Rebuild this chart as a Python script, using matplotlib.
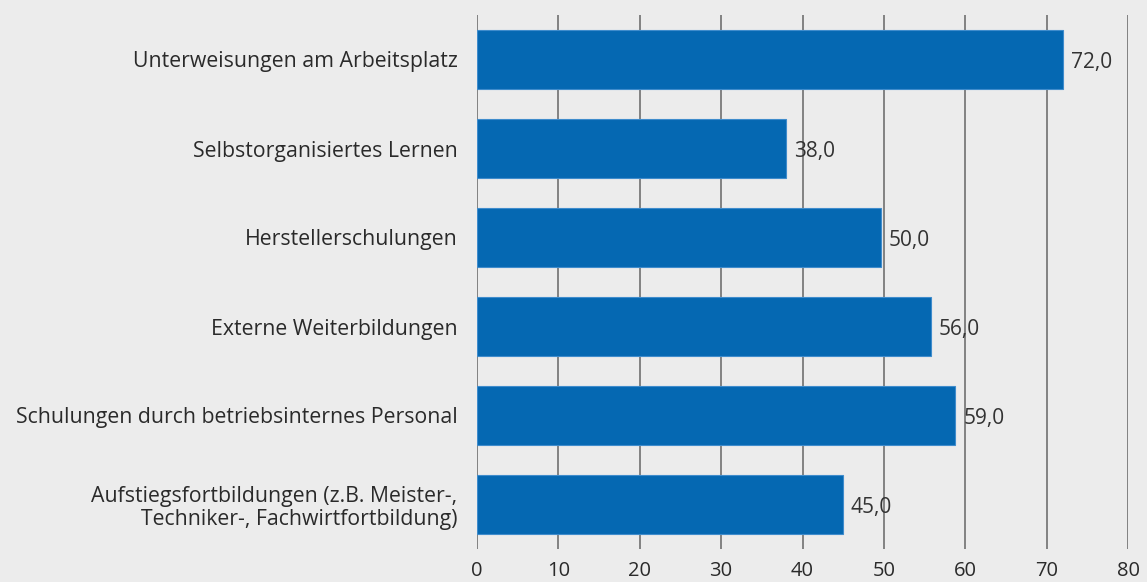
import matplotlib
matplotlib.use("Agg")
import matplotlib.pyplot as plt

categories = [
    "Unterweisungen am Arbeitsplatz",
    "Selbstorganisiertes Lernen",
    "Herstellerschulungen",
    "Externe Weiterbildungen",
    "Schulungen durch betriebsinternes Personal",
    "Aufstiegsfortbildungen (z.B. Meister-,\nTechniker-, Fachwirtfortbildung)",
]
# bar lengths
values = [72.0, 38.0, 49.6, 55.8, 58.8, 45.0]
# value labels as printed in the picture
value_labels = ["72,0", "38,0", "50,0", "56,0", "59,0", "45,0"]
xticks = [0, 10, 20, 30, 40, 50, 60, 70, 80]

bg = "#ececec"
bar_color = "#0568b2"
grid_color = "#707070"
text_color = "#2a2a2a"

plt.rcParams['font.family'] = ['Open Sans', 'DejaVu Sans']

fig = plt.figure(figsize=(11.47, 5.82), dpi=100, facecolor=bg)
ax = fig.add_axes([477/1147, 1-549/582, (1128-477)/1147, (549-15)/582])
ax.set_facecolor(bg)

y = list(range(len(categories)))
ax.barh(y, values, height=0.66, color=bar_color, edgecolor="#3f8ccc", linewidth=0.8, zorder=3)

for yi, v, lab in zip(y, values, value_labels):
    ax.text(v + 0.95, yi + 0.03, lab, va="center", ha="left",
            fontsize=15, color="#333333", zorder=5)

ax.set_xlim(0, 80)
ax.set_ylim(len(categories) - 0.5, -0.5)
ax.set_xticks(xticks)
ax.set_xticklabels([str(t) for t in xticks], fontsize=14.5, color=text_color)
ax.set_yticks(y)
ax.set_yticklabels(categories, fontsize=15.3, color=text_color, linespacing=1.1)
ax.tick_params(axis="both", length=0)
ax.tick_params(axis="y", pad=14)
ax.tick_params(axis="x", pad=8.5)
for s in ax.spines.values():
    s.set_visible(False)
ax.grid(axis="x", color=grid_color, linewidth=1.2, zorder=1)
ax.grid(axis="y", visible=False)
ax.set_axisbelow(True)

fig.savefig("out.png", dpi=100, facecolor=bg)
